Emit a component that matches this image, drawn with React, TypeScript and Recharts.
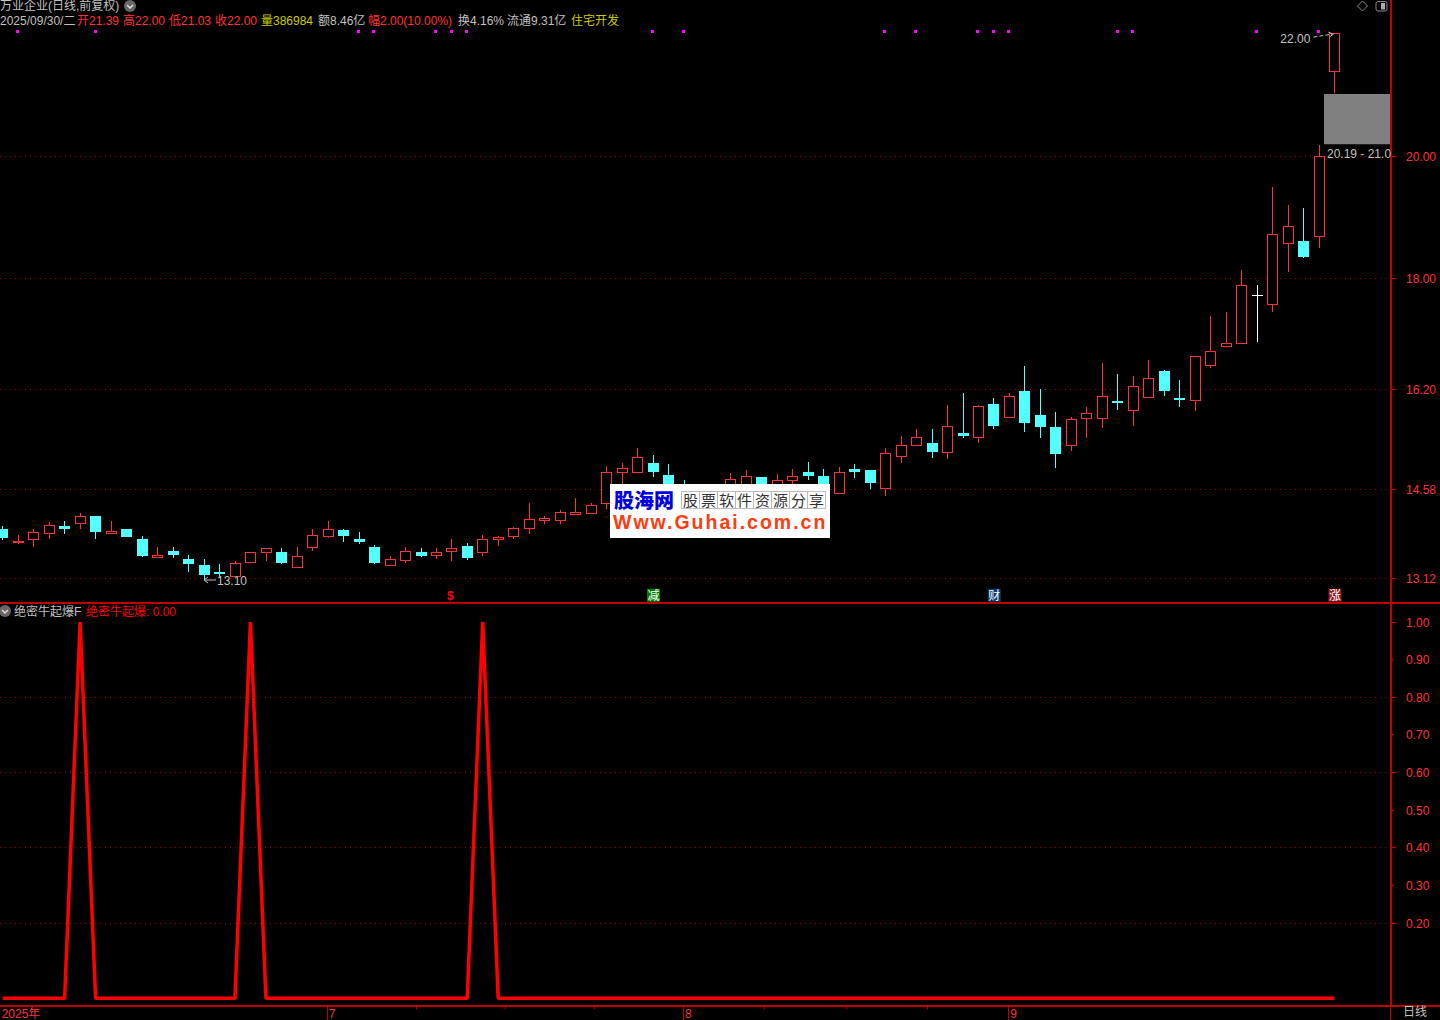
import {
  ComposedChart,
  Bar,
  Line,
  XAxis,
  YAxis,
  CartesianGrid,
  ReferenceArea,
  ReferenceDot,
} from "recharts";

// ── Daily prices ──────────────────────────────────────────────────────────────

const opens = [
  13.93, 13.72, 13.76, 13.87, 13.98, 14.02, 14.14, 13.87, 13.93, 13.77,
  13.48, 13.57, 13.44, 13.35, 13.23, 13.17, 13.4, 13.55, 13.56, 13.31,
  13.63, 13.81, 13.91, 13.77, 13.64, 13.35, 13.43, 13.56, 13.5, 13.58,
  13.65, 13.56, 13.76, 13.82, 13.95, 14.08, 14.08, 14.18, 14.19, 14.36,
  14.86, 14.86, 15.0, 14.81, 14.66, 14.53, 14.6, 14.57, 14.6, 14.78,
  14.57, 14.73, 14.86, 14.79, 14.52, 14.91, 14.89, 14.59, 15.11, 15.3,
  15.33, 15.19, 15.49, 15.42, 15.96, 15.76, 16.18, 15.79, 15.59, 15.3,
  15.73, 15.74, 16.01, 15.87, 16.08, 16.5, 16.06, 16.03, 16.6, 16.91,
  16.96, 17.74, 17.59, 18.59, 18.62, 18.7, 21.39,
];
const highs = [
  13.98, 13.83, 13.93, 14.04, 14.06, 14.19, 14.14, 14.06, 13.93, 13.82,
  13.64, 13.64, 13.51, 13.44, 13.36, 13.41, 13.55, 13.62, 13.62, 13.64,
  13.93, 14.06, 13.93, 13.88, 13.67, 13.49, 13.64, 13.62, 13.62, 13.77,
  13.7, 13.83, 13.81, 13.96, 14.35, 14.14, 14.24, 14.43, 14.35, 14.95,
  15.0, 15.25, 15.14, 14.99, 14.73, 14.66, 14.63, 14.84, 14.89, 14.78,
  14.83, 14.91, 15.02, 14.91, 14.94, 14.99, 14.89, 15.25, 15.44, 15.56,
  15.56, 15.95, 16.14, 15.95, 16.06, 16.14, 16.58, 16.21, 15.83, 15.75,
  15.92, 16.63, 16.45, 16.42, 16.68, 16.52, 16.35, 16.74, 17.4, 17.46,
  18.15, 17.9, 19.5, 19.2, 19.15, 20.18, 22.0,
];
const lows = [
  13.75, 13.69, 13.64, 13.77, 13.85, 13.93, 13.77, 13.85, 13.8, 13.48,
  13.48, 13.46, 13.23, 13.1, 13.13, 13.17, 13.4, 13.41, 13.36, 13.31,
  13.57, 13.78, 13.72, 13.69, 13.36, 13.35, 13.38, 13.48, 13.44, 13.41,
  13.43, 13.49, 13.65, 13.77, 13.85, 14.01, 14.01, 14.18, 14.19, 14.26,
  14.57, 14.86, 14.78, 14.53, 14.48, 14.47, 14.43, 14.52, 14.53, 14.6,
  14.5, 14.63, 14.73, 14.53, 14.52, 14.76, 14.58, 14.47, 15.0, 15.3,
  15.09, 15.07, 15.41, 15.33, 15.56, 15.74, 15.51, 15.41, 14.92, 15.2,
  15.41, 15.57, 15.87, 15.61, 16.08, 16.1, 15.92, 15.85, 16.55, 16.9,
  16.96, 16.97, 17.46, 18.11, 18.34, 18.5, 21.03,
];
const closes = [
  13.78, 13.74, 13.88, 13.99, 13.93, 14.14, 13.88, 13.9, 13.8, 13.49,
  13.51, 13.51, 13.36, 13.18, 13.2, 13.37, 13.55, 13.62, 13.38, 13.49,
  13.84, 13.93, 13.82, 13.72, 13.38, 13.44, 13.57, 13.49, 13.56, 13.62,
  13.46, 13.76, 13.8, 13.94, 14.1, 14.11, 14.2, 14.21, 14.32, 14.85,
  14.92, 15.1, 14.86, 14.61, 14.57, 14.61, 14.5, 14.74, 14.79, 14.6,
  14.72, 14.8, 14.79, 14.57, 14.85, 14.86, 14.68, 15.16, 15.29, 15.42,
  15.18, 15.6, 15.44, 15.93, 15.6, 16.09, 15.66, 15.59, 15.15, 15.72,
  15.81, 16.09, 16.0, 16.25, 16.38, 16.18, 16.03, 16.74, 16.82, 16.95,
  17.9, 17.74, 18.73, 18.86, 18.36, 20.0, 22.0,
];

// 绝密牛起爆 indicator, one value per day
const burstValues = [
  0, 0, 0, 0, 0, 1, 0, 0, 0, 0,
  0, 0, 0, 0, 0, 0, 1, 0, 0, 0,
  0, 0, 0, 0, 0, 0, 0, 0, 0, 0,
  0, 1, 0, 0, 0, 0, 0, 0, 0, 0,
  0, 0, 0, 0, 0, 0, 0, 0, 0, 0,
  0, 0, 0, 0, 0, 0, 0, 0, 0, 0,
  0, 0, 0, 0, 0, 0, 0, 0, 0, 0,
  0, 0, 0, 0, 0, 0, 0, 0, 0, 0,
  0, 0, 0, 0, 0, 0, 0,
];

const signalDays = [1, 6, 23, 24, 28, 29, 30, 42, 44, 57, 59, 63, 64, 65, 72, 73, 81, 85];
const signalLevel = 22.03;

const tagDays = [29, 42, 64, 86];
const tagTexts = ["$", "减", "财", "涨"];
const tagFills = ["none", "#007d00", "#0b3a70", "#8c1c1c"];
const tagLevel = 12.86;

const priceTicks = [20, 18, 16.2, 14.58, 13.12];
const burstTicks = [1, 0.9, 0.8, 0.7, 0.6, 0.5, 0.4, 0.3, 0.2];
const burstGrid = [0.8, 0.6, 0.4, 0.2];
const burstMinor = [0.9, 0.7, 0.5, 0.3];

const monthDays = [0, 21, 44, 65];
const monthLabels = ["2025年", "7", "8", "9"];
const weekTicks = [26.7, 32.5, 38.2, 49.2, 54.5, 59.7];

const rows = opens.map((open, i) => ({
  i,
  open,
  high: highs[i],
  low: lows[i],
  close: closes[i],
  signal: signalDays.includes(i) ? signalLevel : null,
}));
const burstRows = burstValues.map((burst, i) => ({ i, burst }));

// ── Look ──────────────────────────────────────────────────────────────────────

const RED = "#ff3232";
const CYAN = "#54ffff";
const GRAY = "#c0c0c0";
const YELLOW = "#cccc00";
const AXIS = "#c00000";
const GRID = "#a00000";
const LATIN = "'Liberation Sans', Arial, sans-serif";
const FONT = "'Liberation Sans', 'Noto Sans CJK SC', sans-serif";

const X_DOMAIN = [-0.172, 89.655];

// ── Marks ─────────────────────────────────────────────────────────────────────

function Candle({ x, y, width, height, payload }: any) {
  const { open, high, low, close } = payload;
  const perPrice = height / (high - low);
  const top = y + (high - Math.max(open, close)) * perPrice;
  const bottom = y + (high - Math.min(open, close)) * perPrice;
  const color = close > open ? RED : close < open ? CYAN : "#ffffff";
  const cx = Math.round(x + width / 2) + 0.5;
  const t = Math.round(top);
  const b = Math.round(bottom);

  if (close === open) {
    return (
      <g shapeRendering="crispEdges" stroke={color}>
        <line x1={cx} x2={cx} y1={y} y2={y + height} />
        <line x1={cx - 5.5} x2={cx + 5.5} y1={t + 0.5} y2={t + 0.5} />
      </g>
    );
  }
  return (
    <g shapeRendering="crispEdges">
      <line x1={cx} x2={cx} y1={y} y2={t} stroke={color} />
      <line x1={cx} x2={cx} y1={b} y2={y + height} stroke={color} />
      {close > open ? (
        <rect x={cx - 5} y={t + 0.5} width={10} height={Math.max(1, b - t)} fill="#000" stroke={color} />
      ) : (
        <rect x={cx - 5.5} y={t} width={11} height={Math.max(2, b - t)} fill={color} />
      )}
    </g>
  );
}

function SignalDot({ cx, cy, payload, index }: any) {
  if (payload.signal == null) return <g key={index} />;
  return <rect key={index} x={Math.round(cx) - 2} y={Math.round(cy) - 1} width={3} height={3} fill="#ff00ff" />;
}

function Tag({ cx, cy, tagText, tagFill }: any) {
  const plain = tagFill === "none";
  return (
    <g>
      {!plain && <rect x={cx - 6} y={cy - 6} width={13} height={13} fill={tagFill} />}
      <text
        x={plain ? cx - 1.5 : cx + 0.5}
        y={cy + 1}
        textAnchor="middle"
        dominantBaseline="central"
        fontFamily={FONT}
        fontSize={12}
        fontWeight={plain ? 700 : 400}
        fill={plain ? "#ff0000" : "#ffffff"}
      >
        {tagText}
      </text>
    </g>
  );
}

function HighNote({ cx, cy }: any) {
  return (
    <g>
      <text x={cx - 24} y={cy + 6} textAnchor="end" dominantBaseline="central" fontFamily={LATIN} fontSize={12} fill={GRAY}>
        22.00
      </text>
      <path d={`M${cx - 21} ${cy + 4}L${cx - 2} ${cy + 1}`} stroke={GRAY} strokeDasharray="4 2" fill="none" />
      <path d={`M${cx - 6} ${cy - 1}L${cx - 1} ${cy + 1}L${cx - 5} ${cy + 4}`} stroke={GRAY} fill="none" />
    </g>
  );
}

function LowNote({ cx, cy }: any) {
  return (
    <g>
      <path d={`M${cx} ${cy}H${cx + 12}M${cx + 4} ${cy - 3}L${cx} ${cy}L${cx + 4} ${cy + 3}`} stroke={GRAY} fill="none" />
      <text x={cx + 13} y={cy + 1} dominantBaseline="central" fontFamily={LATIN} fontSize={12} fill={GRAY}>
        13.10
      </text>
    </g>
  );
}

// ── Axis ticks ────────────────────────────────────────────────────────────────

function ValueTick({ x, y, payload }: any) {
  const minor = burstMinor.includes(payload.value);
  return (
    <g>
      <line x1={x} x2={x + (minor ? 3 : 5)} y1={y} y2={y} stroke={AXIS} shapeRendering="crispEdges" />
      <text x={x + 15} y={y + 0.5} dominantBaseline="central" fontFamily={LATIN} fontSize={12} fill={RED}>
        {payload.value.toFixed(2)}
      </text>
    </g>
  );
}

function TimeTick({ x, y, payload }: any) {
  const at = monthDays.indexOf(payload.value);
  if (at < 0) return <line x1={x} x2={x} y1={y} y2={y + 3} stroke={AXIS} shapeRendering="crispEdges" />;
  return (
    <g>
      {at > 0 && <line x1={x - 0.5} x2={x - 0.5} y1={y} y2={y + 14} stroke={AXIS} shapeRendering="crispEdges" />}
      <text x={at > 0 ? x + 1 : x - 1} y={y + 8} dominantBaseline="central" fontFamily={FONT} fontSize={12} fill={RED}>
        {monthLabels[at]}
      </text>
    </g>
  );
}

// ── Overlays ──────────────────────────────────────────────────────────────────

function Txt({ x, y, color = GRAY, children, style }: any) {
  return (
    <span
      style={{
        position: "absolute",
        left: x,
        top: y - 8,
        height: 16,
        lineHeight: "16px",
        color,
        fontFamily: FONT,
        fontSize: 12,
        whiteSpace: "nowrap",
        ...style,
      }}
    >
      {children}
    </span>
  );
}

function Chevron({ x, y }: { x: number; y: number }) {
  return (
    <svg style={{ position: "absolute", left: x - 6, top: y - 6 }} width={12} height={12}>
      <circle cx={6} cy={6} r={6} fill="#666" />
      <path d="M3 5L6 8L9 5" stroke="#ddd" strokeWidth={1.5} fill="none" />
    </svg>
  );
}

function Watermark() {
  const cells = ["股", "票", "软", "件", "资", "源", "分", "享"];
  return (
    <div style={{ position: "absolute", left: 610, top: 484, width: 220, height: 54, background: "#fff", overflow: "hidden" }}>
      <div
        style={{
          position: "absolute",
          left: 4,
          top: 4,
          lineHeight: "24px",
          fontFamily: "'Noto Sans CJK SC', sans-serif",
          fontWeight: 900,
          fontSize: 20,
          color: "#0000e0",
        }}
      >
        股海网
      </div>
      <div style={{ position: "absolute", left: 71, top: 7, display: "flex", border: "1px solid #bbb" }}>
        {cells.map((c, n) => (
          <span
            key={c}
            style={{
              width: 17,
              height: 16,
              lineHeight: "16px",
              textAlign: "center",
              fontFamily: "'Noto Sans CJK SC', sans-serif",
              fontSize: 15,
              color: "#333",
              borderLeft: n ? "1px solid #bbb" : "none",
            }}
          >
            {c}
          </span>
        ))}
      </div>
      <div
        style={{
          position: "absolute",
          left: 3,
          top: 27,
          lineHeight: "22px",
          fontFamily: LATIN,
          fontWeight: 700,
          fontSize: 19.5,
          letterSpacing: 2,
          color: "#ff3c10",
          whiteSpace: "nowrap",
        }}
      >
        Www.Guhai.com.cn
      </div>
    </div>
  );
}

// ── Page ──────────────────────────────────────────────────────────────────────

export default function App() {
  return (
    <div style={{ position: "absolute", left: 0, top: 0, width: 1440, height: 1020, background: "#000", overflow: "hidden" }}>
      {/* Price panel */}
      <div style={{ position: "absolute", left: 0, top: 0 }}>
        <ComposedChart width={1441} height={602} data={rows} margin={{ top: 0, right: 0, bottom: 0, left: 0 }}>
          <CartesianGrid horizontalValues={priceTicks} vertical={false} stroke={GRID} strokeDasharray="1 4" shapeRendering="crispEdges" />
          <XAxis dataKey="i" type="number" domain={X_DOMAIN} allowDataOverflow hide />
          <YAxis
            orientation="right"
            width={50}
            type="number"
            domain={[12.742, 22.539]}
            allowDataOverflow
            ticks={priceTicks}
            interval={0}
            tick={<ValueTick />}
            tickLine={false}
            tickSize={0}
            tickMargin={0}
            axisLine={{ stroke: AXIS, strokeWidth: 2 }}
          />
          <ReferenceArea x1={85.33} x2={89.59} y1={20.19} y2={21.01} fill="#808080" fillOpacity={1} stroke="none" />
          <Bar dataKey={(d: any) => [d.low, d.high]} barSize={11} shape={<Candle />} isAnimationActive={false} />
          <Line dataKey="signal" stroke="none" dot={<SignalDot />} activeDot={false} isAnimationActive={false} />
          <ReferenceDot x={86} y={22} shape={<HighNote />} />
          <ReferenceDot x={13} y={13.1} shape={<LowNote />} />
          {tagDays.map((day, n) => (
            <ReferenceDot key={day} x={day} y={tagLevel} shape={<Tag tagText={tagTexts[n]} tagFill={tagFills[n]} />} />
          ))}
        </ComposedChart>
      </div>

      {/* Indicator panel */}
      <div style={{ position: "absolute", left: 0, top: 603 }}>
        <ComposedChart width={1441} height={417} data={burstRows} margin={{ top: 0, right: 0, bottom: 0, left: 0 }}>
          <CartesianGrid horizontalValues={burstGrid} vertical={false} stroke={GRID} strokeDasharray="1 4" shapeRendering="crispEdges" />
          <XAxis
            dataKey="i"
            type="number"
            domain={X_DOMAIN}
            allowDataOverflow
            height={14}
            ticks={[...monthDays, ...weekTicks]}
            interval={0}
            tick={<TimeTick />}
            tickLine={false}
            tickSize={0}
            tickMargin={0}
            axisLine={{ stroke: AXIS, strokeWidth: 2 }}
          />
          <YAxis
            orientation="right"
            width={50}
            type="number"
            domain={[-0.0205, 1.0505]}
            allowDataOverflow
            ticks={burstTicks}
            interval={0}
            tick={<ValueTick />}
            tickLine={false}
            tickSize={0}
            tickMargin={0}
            axisLine={{ stroke: AXIS, strokeWidth: 2 }}
          />
          <Line
            dataKey="burst"
            type="linear"
            stroke="#ff0000"
            strokeWidth={3.5}
            strokeLinejoin="bevel"
            dot={false}
            isAnimationActive={false}
          />
        </ComposedChart>
      </div>

      {/* Panel frames */}
      <div style={{ position: "absolute", left: 0, top: 602, width: 1440, height: 2, background: AXIS }} />
      <div style={{ position: "absolute", left: 1390, top: 1005, width: 50, height: 2, background: AXIS }} />
      <div style={{ position: "absolute", left: 1390, top: 1006, width: 1, height: 14, background: AXIS }} />

      {/* Header */}
      <Txt x={0} y={6} style={{ top: 0, height: 12, lineHeight: "12px" }}>万业企业(日线,前复权)</Txt>
      <Chevron x={130} y={6} />
      <Txt x={0} y={21}>2025/09/30/二</Txt>
      <Txt x={77} y={21} color={RED}>开21.39</Txt>
      <Txt x={123} y={21} color={RED}>高22.00</Txt>
      <Txt x={169} y={21} color={RED}>低21.03</Txt>
      <Txt x={215} y={21} color={RED}>收22.00</Txt>
      <Txt x={261} y={21} color={YELLOW}>量386984</Txt>
      <Txt x={318} y={21}>额8.46亿</Txt>
      <Txt x={368} y={21} color={RED}>幅2.00(10.00%)</Txt>
      <Txt x={458} y={21}>换4.16%</Txt>
      <Txt x={507} y={21}>流通9.31亿</Txt>
      <Txt x={571} y={21} color={YELLOW}>住宅开发</Txt>

      {/* Window buttons */}
      <svg style={{ position: "absolute", left: 1355, top: 0 }} width={34} height={13}>
        <path d="M7.5 1L12.5 6L7.5 11L2.5 6Z" stroke="#888" fill="none" />
        <rect x={21} y={1.5} width={11} height={9.5} rx={2} stroke="#888" fill="none" />
        <rect x={26} y={3} width={4} height={6.5} fill="#aaa" />
      </svg>

      <Txt x={1327} y={154} style={{ fontFamily: LATIN }}>20.19 - 21.0</Txt>

      {/* Indicator legend */}
      <Chevron x={5} y={611} />
      <Txt x={14} y={612}>绝密牛起爆F</Txt>
      <Txt x={86} y={612} color="#ff0000">绝密牛起爆: 0.00</Txt>
      <Txt x={1403} y={1012}>日线</Txt>

      <Watermark />
    </div>
  );
}
